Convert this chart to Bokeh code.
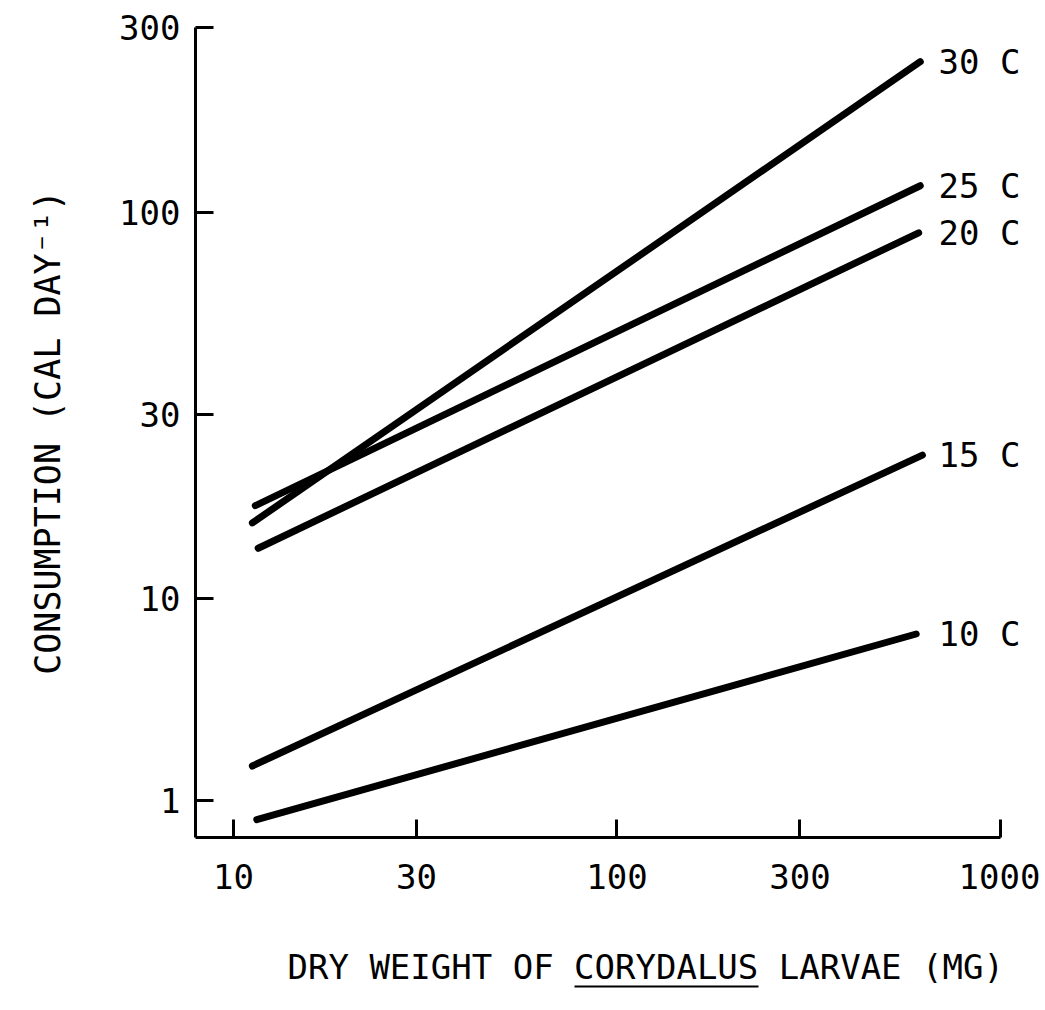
from bokeh.plotting import figure
from bokeh.models import FixedTicker, LogAxis, LinearAxis, LinearScale, Range1d, Title
from bokeh.embed import file_html
from bokeh.resources import INLINE

# ---- data ----
series = ["30 C", "25 C", "20 C", "15 C", "10 C"]
x_start = [11.2, 11.4, 11.6, 11.2, 11.5]
x_end = [618, 618, 612, 626, 603]
y_start = [15.7, 17.4, 13.5, 3.69, 2.68]
y_end = [245, 117, 88.4, 23.5, 8.1]

x_ticks = [10, 30, 100, 300, 1000]
x_tick_labels = ["10", "30", "100", "300", "1000"]
y_ticks = [3, 10, 30, 100, 300]
y_tick_labels = ["1", "10", "30", "100", "300"]

x_title = "DRY WEIGHT OF CORYDALUS LARVAE (MG)"
y_title = "CONSUMPTION (CAL DAY\u207b\u00b9)"

FONT = "DejaVu Sans Mono"
TITLE_SIZE = 34
TITLE_OFFSET = 92
CHAR_W = 0.602 * TITLE_SIZE          # monospace advance
UL_FIRST, UL_LEN = 14, 9             # "CORYDALUS" is underlined
TITLE_GAP = 53

p = figure(width=1040, height=1005, x_axis_type="log", y_axis_type="log",
           x_range=Range1d(7.96, 1000.5), y_range=Range1d(2.41, 300.3),
           output_backend="svg", toolbar_location=None,
           min_border_left=195, min_border_right=40,
           min_border_top=27, min_border_bottom=168)
p.outline_line_color = None
p.grid.visible = False
p.background_fill_color = "white"
p.border_fill_color = "white"

for ax in (p.xaxis[0], p.yaxis[0]):
    ax.axis_line_width = 3
    ax.axis_line_color = "black"
    ax.major_tick_line_width = 3
    ax.major_tick_line_color = "black"
    ax.major_tick_in = 18
    ax.major_tick_out = 0
    ax.minor_tick_line_color = None
    ax.major_label_text_font = FONT
    ax.major_label_text_font_size = "34px"
    ax.major_label_text_color = "black"

p.xaxis.ticker = FixedTicker(ticks=x_ticks)
p.xaxis.major_label_overrides = {t: l for t, l in zip(x_ticks, x_tick_labels)}
p.xaxis.major_label_standoff = 26
p.yaxis.ticker = FixedTicker(ticks=y_ticks)
p.yaxis.major_label_overrides = {t: l for t, l in zip(y_ticks, y_tick_labels)}
p.yaxis.major_label_standoff = 15

# y axis title
p.yaxis.axis_label = y_title
p.yaxis.axis_label_text_font = FONT
p.yaxis.axis_label_text_font_size = "35px"
p.yaxis.axis_label_text_font_style = "normal"
p.yaxis.axis_label_text_color = "black"
p.yaxis.axis_label_standoff = 48

# helper pixel range along the frame width (for the title's gap and underline)
p.extra_x_ranges = {"px": Range1d(0, 805)}
p.extra_x_scales = {"px": LinearScale()}

# invisible gap between the tick labels and the x title
p.add_layout(LinearAxis(x_range_name="px", ticker=FixedTicker(ticks=[400]),
                        major_label_overrides={400: ""},
                        axis_line_color=None, major_tick_line_color=None,
                        minor_tick_line_color=None, major_tick_in=0,
                        major_tick_out=TITLE_GAP, major_label_standoff=0,
                        major_label_text_font_size="0px"), "below")

# x axis title
p.add_layout(Title(text=x_title, align="left", offset=TITLE_OFFSET, standoff=0,
                   text_font=FONT, text_font_size=f"{TITLE_SIZE}px",
                   text_font_style="normal", text_color="black"), "below")

# underline of "CORYDALUS": an axis line restricted to the word's extent
ul_start = TITLE_OFFSET + UL_FIRST * CHAR_W
p.add_layout(LinearAxis(x_range_name="px", ticker=FixedTicker(ticks=[]),
                        bounds=(ul_start, ul_start + UL_LEN * CHAR_W),
                        axis_line_width=2, axis_line_color="black",
                        major_tick_line_color=None, minor_tick_line_color=None,
                        major_tick_in=0, major_tick_out=0,
                        major_label_text_font_size="0px",
                        major_label_standoff=0), "below")

# the five regression lines
for i in range(len(series)):
    p.line([x_start[i], x_end[i]], [y_start[i], y_end[i]],
           line_width=7, line_color="black", line_cap="round")

# series names next to the line ends (right-hand axis, drawn inside the frame)
lab_axis = LogAxis(ticker=FixedTicker(ticks=y_end),
                   major_label_overrides={v: s for v, s in zip(y_end, series)},
                   axis_line_color=None, major_tick_line_color=None,
                   minor_tick_line_color=None, major_tick_in=0, major_tick_out=0,
                   major_label_standoff=-62,
                   major_label_text_font=FONT, major_label_text_font_size="34px",
                   major_label_text_color="black")
p.add_layout(lab_axis, "right")

open("out.html", "w").write(file_html(p, INLINE))
